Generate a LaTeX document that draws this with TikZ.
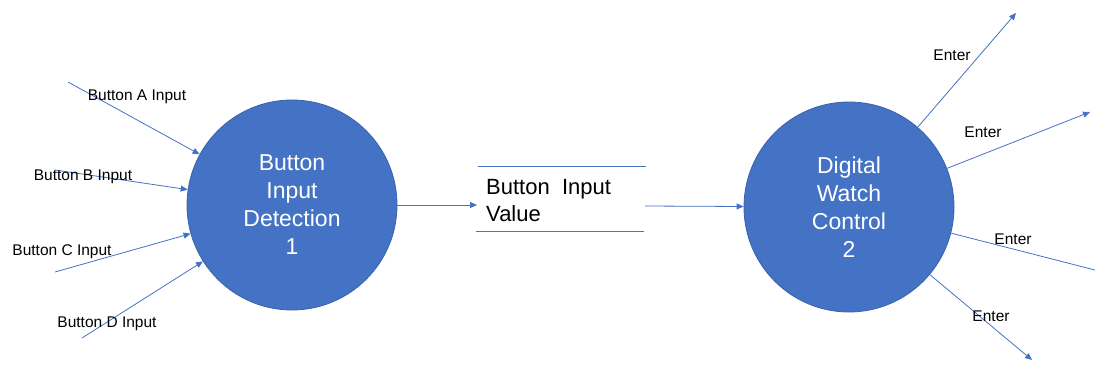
\documentclass[tikz,border=0pt]{standalone}
\usepackage{fontspec}
\setmainfont{Liberation Sans}
\usetikzlibrary{arrows.meta}

\definecolor{procblue}{HTML}{4472C4}
\definecolor{procedge}{HTML}{3A62AB}

\tikzset{
    process/.style={circle, draw=procedge, fill=procblue, line width=0.8pt, minimum size=210pt,
        text=white, align=center, font=\fontsize{23}{28}\selectfont},
    flow/.style={draw=procblue, line width=0.8pt, -{Triangle[length=7pt,width=6pt]}},
    flowlabel/.style={font=\fontsize{15.5}{17}\selectfont, inner sep=0pt},
}

\begin{document}
\begin{tikzpicture}[x=1pt, y=-1pt]
    \useasboundingbox (0, 0) rectangle (1095, 365);

    % Processes
    \node[process] (det) at (292, 205) {Button\\Input\\Detection\\1};
    \node[process] (ctl) at (849, 207) {Digital\\Watch\\Control\\2};

    % Data store
    \coordinate (storeTL) at (478, 166);
    \coordinate (storeTR) at (646, 166);
    \coordinate (storeBL) at (476, 231);
    \coordinate (storeBR) at (644, 231);
    \draw[procblue, line width=0.8pt] (storeTL) -- (storeTR);
    \draw[procblue, line width=0.8pt] (storeBL) -- (storeBR);
    \node[anchor=north west, align=left, inner sep=0pt, font=\fontsize{22}{27}\selectfont] (store) at (486, 179) {Button\ \ Input\\Value};

    % Button inputs
    \coordinate (inA) at (68, 82);
    \coordinate (inB) at (55, 170);
    \coordinate (inC) at (55, 272);
    \coordinate (inD) at (82, 338);
    \draw[flow] (inA) -- (det);
    \draw[flow] (inB) -- (det);
    \draw[flow] (inC) -- (det);
    \draw[flow] (inD) -- (det);
    \node[flowlabel] (labA) at (137, 97) {Button\ A\ Input};
    \node[flowlabel] (labB) at (83, 177) {Button\ B\ Input};
    \node[flowlabel] (labC) at (62, 252) {Button\ C\ Input};
    \node[flowlabel] (labD) at (107, 324) {Button\ D\ Input};

    % Value flows
    \coordinate (storeIn) at (477, 205);
    \coordinate (storeOut) at (645, 206);
    \draw[flow] (det) -- (storeIn);
    \draw[flow] (storeOut) -- (ctl);

    % Outputs
    \coordinate (outA) at (1016, 13);
    \coordinate (outB) at (1090, 112);
    \coordinate (outC) at (1095, 270);
    \coordinate (outD) at (1032, 360);
    \draw[flow] (ctl) -- (outA);
    \draw[flow] (ctl) -- (outB);
    \draw[draw=procblue, line width=0.8pt] (ctl) -- (outC);
    \draw[flow] (ctl) -- (outD);
    \node[flowlabel] (entA) at (952, 55) {Enter};
    \node[flowlabel] (entB) at (983, 132) {Enter};
    \node[flowlabel] (entC) at (1013, 239) {Enter};
    \node[flowlabel] (entD) at (991, 316) {Enter};
\end{tikzpicture}
\end{document}
